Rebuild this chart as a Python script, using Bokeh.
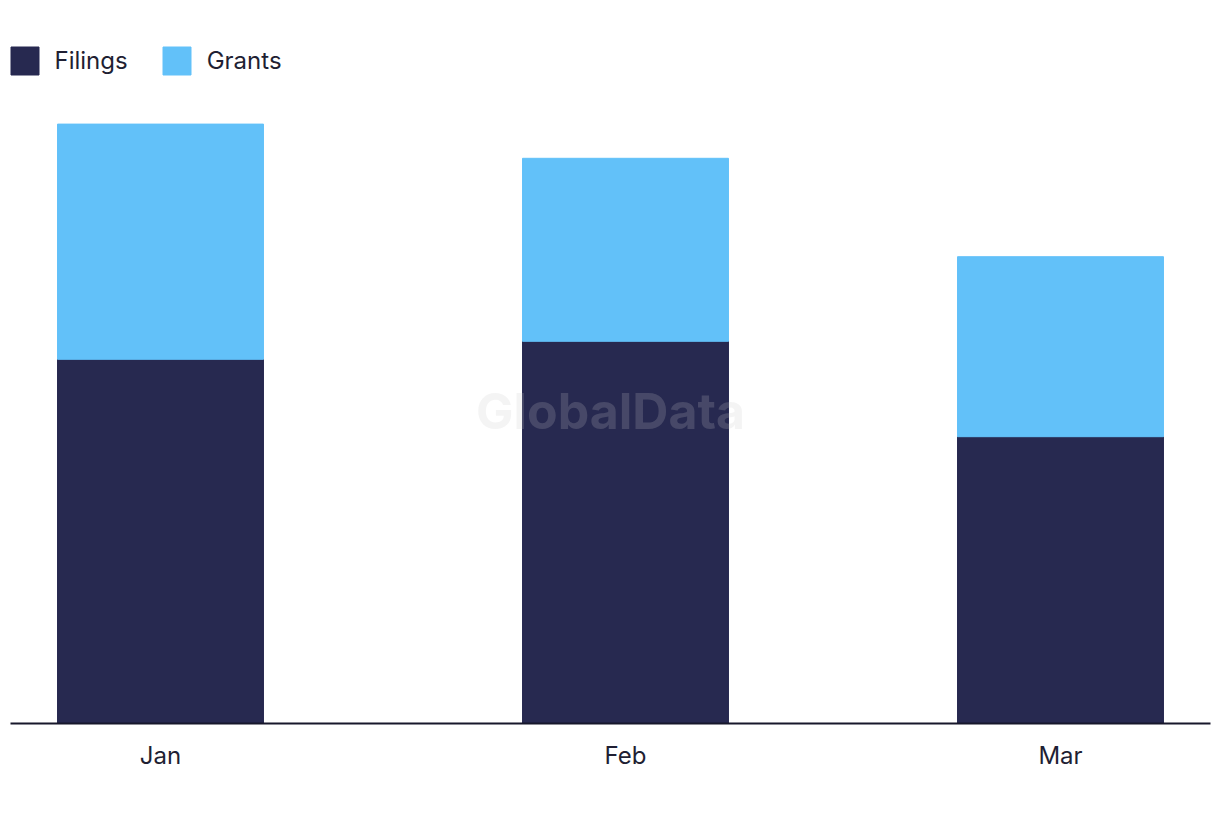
import pandas as pd
from bokeh.plotting import figure
from bokeh.models import (Range1d, FixedTicker, DatetimeTickFormatter, Legend,
                          LegendItem, Label, ColumnDataSource)
from bokeh.embed import file_html
from bokeh.resources import INLINE

months = ["Jan", "Feb", "Mar"]
dates = ["2024-01-01", "2024-02-01", "2024-03-01"]
filings = [60.7, 63.7, 47.8]
grants = [39.2, 30.5, 30.0]
series = ["Filings", "Grants"]
colors = ["#272950", "#62C1F9"]

DAY = 86400000
x = pd.to_datetime(dates)
source = ColumnDataSource(dict(x=x, Filings=filings, Grants=grants))

p = figure(width=1220, height=822, x_axis_type="datetime",
           x_range=Range1d(pd.Timestamp("2023-12-22"), pd.Timestamp("2024-03-11")),
           y_range=Range1d(0, 120.5),
           output_backend="svg", toolbar_location=None,
           min_border_left=10, min_border_right=10, min_border_top=0,
           min_border_bottom=99, y_axis_location=None)

renderers = p.vbar_stack(series, x="x", width=13.73 * DAY, color=colors, source=source)

p.xgrid.visible = False
p.ygrid.visible = False
p.outline_line_color = None

ax = p.xaxis[0]
ax.ticker = FixedTicker(ticks=[int(t.timestamp() * 1000) for t in x])
ax.formatter = DatetimeTickFormatter(days="%b", months="%b", years="%b", hours="%b",
                                     hourmin="%b", minutes="%b", minsec="%b",
                                     seconds="%b", milliseconds="%b", microseconds="%b")
ax.major_tick_line_color = None
ax.minor_tick_line_color = None
ax.major_tick_out = 0
ax.major_tick_in = 0
ax.minor_tick_out = 0
ax.axis_line_color = "#17172b"
ax.axis_line_width = 2
ax.major_label_standoff = 17
ax.major_label_text_font = "Inter"
ax.major_label_text_font_size = "24px"
ax.major_label_text_color = "#1f1f33"

legend = Legend(items=[LegendItem(label=s, renderers=[r]) for s, r in zip(series, renderers)],
                location=(-3.5, 645.5), orientation="horizontal",
                glyph_width=35, glyph_height=35, label_height=35,
                label_standoff=13, spacing=31, padding=0, margin=0,
                border_line_color=None, background_fill_alpha=0,
                label_text_font="Inter", label_text_font_size="24px",
                label_text_color="#1f1f33", label_text_baseline="middle")
p.add_layout(legend)

wm = Label(x=600, y=313, x_units="screen", y_units="screen", text="GlobalData",
           text_align="center", text_baseline="middle", text_font="Inter",
           text_font_style="bold", text_font_size="50px", text_color="#c8c8c8",
           text_alpha=0.2)
p.add_layout(wm)

open("out.html", "w").write(file_html(p, INLINE))
